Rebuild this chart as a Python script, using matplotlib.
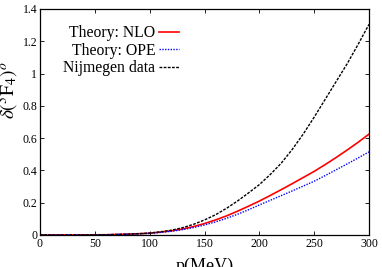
import matplotlib
matplotlib.use('agg')
import matplotlib.pyplot as plt

plt.rcParams['font.family'] = ['Liberation Serif', 'DejaVu Serif']
plt.rcParams['mathtext.fontset'] = 'stix'

# Datos
p = [0, 20, 40, 60, 80, 90, 100, 110, 120, 130, 140, 150, 160, 170, 180, 190,
     200, 210, 220, 230, 240, 250, 260, 270, 280, 290, 300]
nlo = [0, 0, 0.0005, 0.0015, 0.005, 0.008, 0.011, 0.018, 0.026, 0.037, 0.052, 0.071,
       0.093, 0.118, 0.147, 0.178, 0.210, 0.245, 0.281, 0.318, 0.356, 0.394, 0.436,
       0.480, 0.526, 0.574, 0.625]
ope = [0, 0, 0.0005, 0.0015, 0.005, 0.007, 0.010, 0.016, 0.023, 0.033, 0.046, 0.062,
       0.081, 0.103, 0.128, 0.156, 0.186, 0.215, 0.244, 0.273, 0.303, 0.333, 0.368,
       0.404, 0.440, 0.477, 0.515]
nijm = [0, 0, 0.0005, 0.0015, 0.005, 0.008, 0.012, 0.020, 0.030, 0.045, 0.066, 0.093,
        0.125, 0.165, 0.210, 0.260, 0.312, 0.375, 0.445, 0.530, 0.625, 0.730, 0.840,
        0.950, 1.060, 1.180, 1.305]

xticks = [0, 50, 100, 150, 200, 250, 300]
yticks = [0, 0.2, 0.4, 0.6, 0.8, 1.0, 1.2, 1.4]
ytick_labels = ['0', '0.2', '0.4', '0.6', '0.8', '1', '1.2', '1.4']

fig = plt.figure(figsize=(3.82, 2.67), dpi=100)
ax = fig.add_axes([0.1047, 0.1199, 0.8613, 0.8464])

ax.plot(p, nlo, color='#ff0000', lw=1.2, ls='-', label='Theory: NLO')
ax.plot(p, ope, color='#0000ff', lw=1.0, ls=(0, (1, 1)), label='Theory: OPE')
ax.plot(p, nijm, color='black', lw=1.0, ls=(0, (2, 1)), label='Nijmegen data')

ax.set_xlim(0, 300)
ax.set_ylim(0, 1.4)
ax.set_xticks(xticks)
ax.set_xticklabels([str(t) for t in xticks])
ax.set_yticks(yticks)
ax.set_yticklabels(ytick_labels)
ax.tick_params(direction='in', top=True, right=True, labelsize=8.5, length=3, width=0.6, pad=2)
for s in ax.spines.values():
    s.set_linewidth(0.9)

ax.set_xlabel('p(MeV)', fontsize=13, labelpad=6)
ax.set_ylabel(r'$\delta(^3\mathrm{F}_4)^o$', fontsize=14)
ax.yaxis.set_label_coords(-0.058, 0.64)

leg = ax.legend(loc='upper right', bbox_to_anchor=(179 / 382, 1 - 25 / 267),
                bbox_transform=fig.transFigure, frameon=False,
                markerfirst=False, fontsize=11.3, handlelength=1.3, handletextpad=0.2,
                labelspacing=0.1, borderaxespad=0, borderpad=0)
for t in leg.get_texts():
    t.set_ha('right')

fig.savefig('out.png', dpi=100)
